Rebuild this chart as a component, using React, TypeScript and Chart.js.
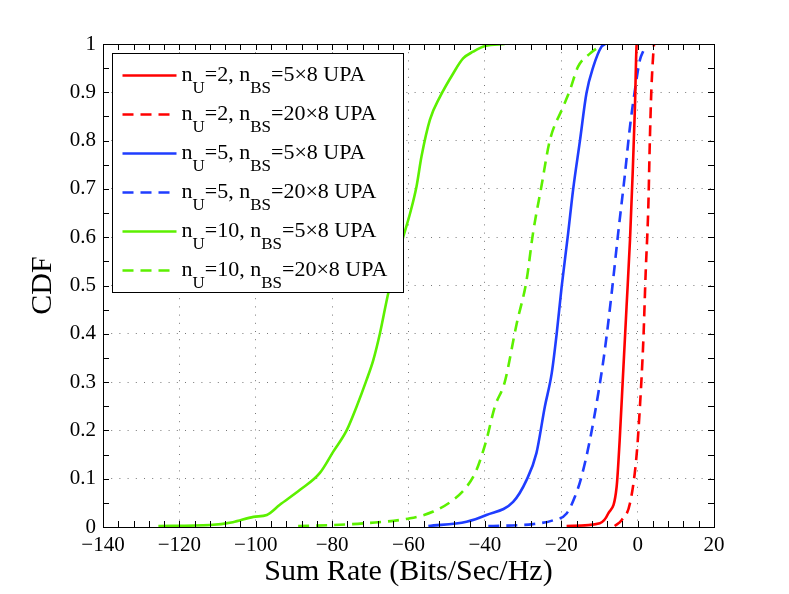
import { useEffect, useRef } from 'react';
import { Chart, registerables } from 'chart.js';

Chart.register(...registerables);

// series data (sum rate vs CDF)
const u2Bs5x8Rate = [-18.6, -9.9, -7.7, -5.5, -4.7, -3.8, -2.9, -2.0, -1.3, -0.7, -0.3, -0.2];
const u2Bs5x8Cdf = [0.002, 0.008, 0.028, 0.083, 0.18, 0.318, 0.456, 0.594, 0.732, 0.87, 0.994, 1.0];

const u2Bs20x8Rate = [-6.0, -4.2, -2.0, -0.3, 0.6, 1.5, 2.1, 2.8, 3.2, 3.6, 4.1, 4.3];
const u2Bs20x8Cdf = [0.002, 0.014, 0.049, 0.146, 0.249, 0.387, 0.525, 0.663, 0.8, 0.905, 0.98, 1.0];

const u5Bs5x8Rate = [-54.8, -44.8, -39.6, -32.6, -29.1, -26.5, -24.3, -22.5, -21.2, -19.9, -18.2, -16.9, -15.1, -13.4, -11.6, -9.5, -8.5];
const u5Bs5x8Cdf = [0.002, 0.011, 0.025, 0.052, 0.097, 0.153, 0.249, 0.318, 0.4, 0.497, 0.608, 0.698, 0.8, 0.898, 0.953, 0.994, 1.0];

const u5Bs20x8Rate = [-39.1, -27.4, -22.1, -18.6, -16.4, -14.7, -12.5, -10.3, -8.6, -6.8, -5.1, -3.4, -2.0, -0.7, 0.6, 1.6, 2.0];
const u5Bs20x8Cdf = [0.002, 0.006, 0.014, 0.028, 0.063, 0.104, 0.18, 0.277, 0.366, 0.484, 0.608, 0.725, 0.829, 0.905, 0.967, 0.988, 1.0];

const u10Bs5x8Rate = [-125.5, -112, -106, -100.6, -97.1, -93.7, -88.4, -83.2, -79.7, -76.2, -73.6, -71.0, -69.2, -67.5, -65.3, -61.4, -59.6, -57.9, -56.6, -54.4, -51.8, -48.3, -45.7, -43.1, -40, -34.8];
const u10Bs5x8Cdf = [0.002, 0.004, 0.01, 0.021, 0.025, 0.046, 0.077, 0.112, 0.156, 0.2, 0.249, 0.304, 0.346, 0.4, 0.484, 0.6, 0.649, 0.705, 0.767, 0.843, 0.89, 0.939, 0.97, 0.984, 0.996, 1.0];

const u10Bs20x8Rate = [-88.9, -79.7, -71, -59.6, -53.5, -48.3, -44.8, -42.2, -39.6, -37.4, -34.8, -31.7, -29.1, -27.4, -25.2, -23.0, -19.5, -17.7, -15.6, -12.5, -9.0];
const u10Bs20x8Cdf = [0.002, 0.004, 0.008, 0.018, 0.032, 0.056, 0.083, 0.118, 0.18, 0.249, 0.3, 0.42, 0.51, 0.608, 0.705, 0.8, 0.87, 0.905, 0.953, 0.98, 1.0];

// legend labels: n_U and n_BS parts
const userCounts = ['2', '2', '5', '5', '10', '10'];
const bsArrays = ['5×8', '20×8', '5×8', '20×8', '5×8', '20×8'];

const RED = '#ff0000';
const BLUE = '#1f3dff';
const GREEN = '#5cf000';
const DASH = [11, 7];
const GRID_DOTS = [1, 7.2];
const SERIF = '"Liberation Serif", "DejaVu Serif", serif';

const pts = (xs: number[], ys: number[]) => xs.map((x, i) => ({ x, y: ys[i] }));

const series = [
  { data: pts(u2Bs5x8Rate, u2Bs5x8Cdf), color: RED, dash: [] as number[] },
  { data: pts(u2Bs20x8Rate, u2Bs20x8Cdf), color: RED, dash: DASH },
  { data: pts(u5Bs5x8Rate, u5Bs5x8Cdf), color: BLUE, dash: [] as number[] },
  { data: pts(u5Bs20x8Rate, u5Bs20x8Cdf), color: BLUE, dash: DASH },
  { data: pts(u10Bs5x8Rate, u10Bs5x8Cdf), color: GREEN, dash: [] as number[] },
  { data: pts(u10Bs20x8Rate, u10Bs20x8Cdf), color: GREEN, dash: DASH },
];

const fmt = (v: number) => {
  const n = Number(v.toFixed(1));
  return n < 0 ? '\u2212' + Math.abs(n) : String(n);
};

// box, inward ticks, titles and the subscripted legend
const matlabPlugin = {
  id: 'matlabLook',
  afterDatasetsDraw(chart: any) {
    const { ctx, chartArea: ca, scales } = chart;
    const xs = scales.x;
    const ys = scales.y;
    ctx.save();
    ctx.strokeStyle = '#000';
    ctx.lineWidth = 1;
    ctx.setLineDash([]);
    ctx.beginPath();
    for (let v = -140; v <= 20; v += 4) {
      const px = Math.round(xs.getPixelForValue(v)) + 0.5;
      ctx.moveTo(px, ca.bottom);
      ctx.lineTo(px, ca.bottom - 6);
      ctx.moveTo(px, ca.top);
      ctx.lineTo(px, ca.top + 6);
    }
    for (let i = 0; i <= 20; i++) {
      const py = Math.round(ys.getPixelForValue(i * 0.05)) + 0.5;
      ctx.moveTo(ca.left, py);
      ctx.lineTo(ca.left + 6, py);
      ctx.moveTo(ca.right, py);
      ctx.lineTo(ca.right - 6, py);
    }
    ctx.stroke();
    ctx.strokeRect(Math.round(ca.left) + 0.5, Math.round(ca.top) + 0.5, Math.round(ca.right - ca.left), Math.round(ca.bottom - ca.top));
    ctx.restore();
  },
  afterDraw(chart: any) {
    const { ctx, chartArea: ca } = chart;
    ctx.save();
    // axis titles
    ctx.fillStyle = '#000';
    ctx.font = `30px ${SERIF}`;
    ctx.textAlign = 'center';
    ctx.textBaseline = 'alphabetic';
    ctx.fillText('Sum Rate (Bits/Sec/Hz)', (ca.left + ca.right) / 2, 580);
    ctx.translate(43, (ca.top + ca.bottom) / 2);
    ctx.rotate(-Math.PI / 2);
    ctx.font = `30px ${SERIF}`;
    ctx.textBaseline = 'middle';
    ctx.fillText('CDF', 0, 0);
    ctx.restore();

    // legend
    ctx.save();
    const bx = Math.round(ca.left + 9) + 0.5;
    const by = Math.round(ca.top + 9) + 0.5;
    const bw = 291;
    const bh = 239;
    ctx.fillStyle = '#fff';
    ctx.fillRect(bx, by, bw, bh);
    ctx.strokeStyle = '#000';
    ctx.lineWidth = 1;
    ctx.strokeRect(bx, by, bw, bh);
    const main = `22px ${SERIF}`;
    const sub = `17px ${SERIF}`;
    ctx.textAlign = 'left';
    ctx.textBaseline = 'alphabetic';
    series.forEach((s, i) => {
      const cy = by + 22 + i * 39;
      ctx.strokeStyle = s.color;
      ctx.lineWidth = 2.6;
      ctx.setLineDash(s.dash);
      ctx.beginPath();
      ctx.moveTo(bx + 10, cy);
      ctx.lineTo(bx + 64, cy);
      ctx.stroke();
      ctx.setLineDash([]);
      ctx.fillStyle = '#000';
      let x = bx + 69;
      const base = cy + 5;
      const parts: [string, boolean][] = [
        ['n', false], ['U', true], [`=${userCounts[i]}, n`, false], ['BS', true], [`=${bsArrays[i]} UPA`, false],
      ];
      parts.forEach(([t, isSub]) => {
        ctx.font = isSub ? sub : main;
        ctx.fillText(t, x, isSub ? base + 12 : base);
        x += ctx.measureText(t).width;
      });
    });
    ctx.restore();
  },
};

const App = () => {
  const chartRef = useRef<HTMLCanvasElement>(null);
  const chartInstance = useRef<Chart | null>(null);

  useEffect(() => {
    document.body.style.margin = '0';
    const canvas = chartRef.current;
    if (!canvas) return;
    const ctx = canvas.getContext('2d');
    if (!ctx) return;
    if (chartInstance.current) chartInstance.current.destroy();

    chartInstance.current = new Chart(ctx, {
      type: 'line',
      data: {
        datasets: series.map((s) => ({
          data: s.data,
          borderColor: s.color,
          backgroundColor: s.color,
          borderDash: s.dash,
          borderWidth: 2.6,
          pointRadius: 0,
          cubicInterpolationMode: 'monotone' as const,
          fill: false,
        })),
      },
      options: {
        responsive: false,
        animation: false,
        layout: { padding: { top: 44, right: 75, left: 0, bottom: 0 } },
        plugins: { legend: { display: false }, tooltip: { enabled: false } },
        scales: {
          x: {
            type: 'linear',
            min: -140,
            max: 20,
            afterFit: (scale: any) => { scale.height = 67; },
            ticks: {
              stepSize: 20,
              color: '#000',
              padding: 6,
              maxRotation: 0,
              font: { family: SERIF, size: 21 },
              callback: (v: any) => fmt(Number(v)),
            },
            grid: { color: '#777', drawTicks: false, lineWidth: 1 },
            border: { display: false, dash: GRID_DOTS },
          },
          y: {
            type: 'linear',
            min: 0,
            max: 1,
            afterFit: (scale: any) => { scale.width = 103; },
            ticks: {
              stepSize: 0.1,
              color: '#000',
              padding: 7,
              font: { family: SERIF, size: 21 },
              callback: (v: any) => fmt(Number(v)),
            },
            grid: { color: '#777', drawTicks: false, lineWidth: 1 },
            border: { display: false, dash: GRID_DOTS },
          },
        },
      },
      plugins: [matlabPlugin],
    });

    return () => {
      if (chartInstance.current) {
        chartInstance.current.destroy();
        chartInstance.current = null;
      }
    };
  }, []);

  return (
    <div style={{ width: 789, height: 594, background: '#fff' }}>
      <canvas ref={chartRef} width={789} height={594}></canvas>
    </div>
  );
};

export default App;
